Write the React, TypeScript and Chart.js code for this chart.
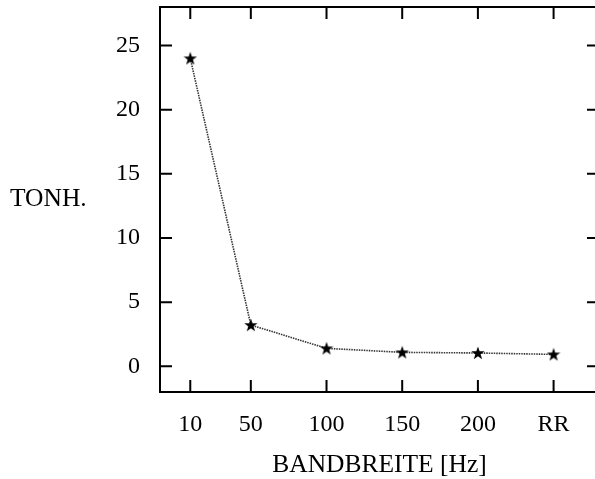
import React, { useEffect, useRef } from "react";
import { Chart, registerables } from "chart.js";
Chart.register(...registerables);

const categories = ["10", "50", "100", "150", "200", "RR"];
const bandwidthPositions = [10, 50, 100, 150, 200, 250];
const tonhValues = [24.0, 3.22, 1.4, 1.09, 1.04, 0.93];
const yTickValues = [0, 5, 10, 15, 20, 25];
const yAxisTitle = "TONH.";
const xAxisTitle = "BANDBREITE [Hz]";

const FONT_FAMILY = "'Liberation Serif', 'DejaVu Serif', serif";

function makeStar(size: number) {
  const c = document.createElement("canvas");
  c.width = size;
  c.height = size;
  const ctx = c.getContext("2d")!;
  const cx = size / 2;
  const cy = size / 2 + 0.5;
  const R = size / 2;
  const r = R * 0.4;
  ctx.beginPath();
  for (let i = 0; i < 10; i++) {
    const ang = -Math.PI / 2 + (i * Math.PI) / 5;
    const rad = i % 2 === 0 ? R : r;
    ctx.lineTo(cx + rad * Math.cos(ang), cy + rad * Math.sin(ang));
  }
  ctx.closePath();
  ctx.fillStyle = "#000";
  ctx.fill();
  return c;
}

const framePlugin = {
  id: "frame",
  afterDraw(chart: any) {
    const { ctx, chartArea: a, scales } = chart;
    ctx.save();
    ctx.strokeStyle = "#000";
    ctx.lineWidth = 2;
    ctx.strokeRect(a.left, a.top, a.right - a.left, a.bottom - a.top);
    const L = 12;
    ctx.beginPath();
    scales.x.ticks.forEach((t: any) => {
      const px = scales.x.getPixelForValue(t.value);
      ctx.moveTo(px, a.bottom);
      ctx.lineTo(px, a.bottom - L);
      ctx.moveTo(px, a.top);
      ctx.lineTo(px, a.top + L);
    });
    scales.y.ticks.forEach((t: any) => {
      const py = scales.y.getPixelForValue(t.value);
      ctx.moveTo(a.left, py);
      ctx.lineTo(a.left + L, py);
      ctx.moveTo(a.right, py);
      ctx.lineTo(a.right - L, py);
    });
    ctx.stroke();
    ctx.font = `25.5px ${FONT_FAMILY}`;
    ctx.textAlign = "left";
    ctx.textBaseline = "middle";
    ctx.fillStyle = "#000";
    ctx.fillText(yAxisTitle, 10, (a.top + a.bottom) / 2);
    ctx.restore();
  },
};

export default function App() {
  const ref = useRef<HTMLCanvasElement>(null);
  useEffect(() => {
    if (!ref.current) return;
    const star = makeStar(14);
    const chart = new Chart(ref.current, {
      type: "line",
      data: {
        datasets: [
          {
            data: bandwidthPositions.map((x, i) => ({ x, y: tonhValues[i] })),
            borderColor: "#333",
            borderWidth: 1.6,
            borderDash: [1.5, 1],
            pointStyle: star as any,
            pointRadius: 7,
            tension: 0,
          },
        ],
      },
      options: {
        animation: false,
        responsive: false,
        devicePixelRatio: 1,
        layout: { autoPadding: false, padding: { top: 7, right: 1, left: 0, bottom: 0 } },
        plugins: { legend: { display: false }, tooltip: { enabled: false } },
        scales: {
          x: {
            type: "linear",
            min: -10,
            max: 280,
            afterBuildTicks: (s: any) => {
              s.ticks = bandwidthPositions.map((v) => ({ value: v }));
            },
            afterFit: (s: any) => {
              s.height = 87;
              s.paddingLeft = 0;
              s.paddingRight = 0;
              s.paddingTop = 0;
              s.paddingBottom = 0;
            },
            ticks: {
              callback: (v: any) => {
                const i = bandwidthPositions.indexOf(Number(v));
                return i >= 0 ? categories[i] : "";
              },
              autoSkip: false,
              maxRotation: 0,
              color: "#000",
              font: { family: FONT_FAMILY, size: 24 },
              padding: 18,
            },
            grid: { display: false, drawTicks: false },
            border: { display: false },
            title: {
              display: true,
              text: xAxisTitle,
              color: "#000",
              font: { family: FONT_FAMILY, size: 25.5, lineHeight: 1.1 },
              padding: { top: 0, bottom: 0 },
            },
          },
          y: {
            type: "linear",
            min: -2,
            max: 28,
            afterBuildTicks: (s: any) => {
              s.ticks = yTickValues.map((v) => ({ value: v }));
            },
            afterFit: (s: any) => {
              s.width = 160;
              s.paddingLeft = 0;
              s.paddingRight = 0;
              s.paddingTop = 0;
              s.paddingBottom = 0;
            },
            ticks: {
              color: "#000",
              font: { family: FONT_FAMILY, size: 24 },
              padding: 20,
            },
            grid: { display: false, drawTicks: false },
            border: { display: false },
          },
        },
      },
      plugins: [framePlugin],
    });
    return () => chart.destroy();
  }, []);
  return (
    <div
      style={{
        position: "fixed",
        left: 0,
        top: 0,
        width: 595,
        height: 479,
        overflow: "hidden",
        background: "#fff",
      }}
    >
      <canvas ref={ref} width={600} height={479} style={{ display: "block", width: 600, height: 479 }} />
    </div>
  );
}
